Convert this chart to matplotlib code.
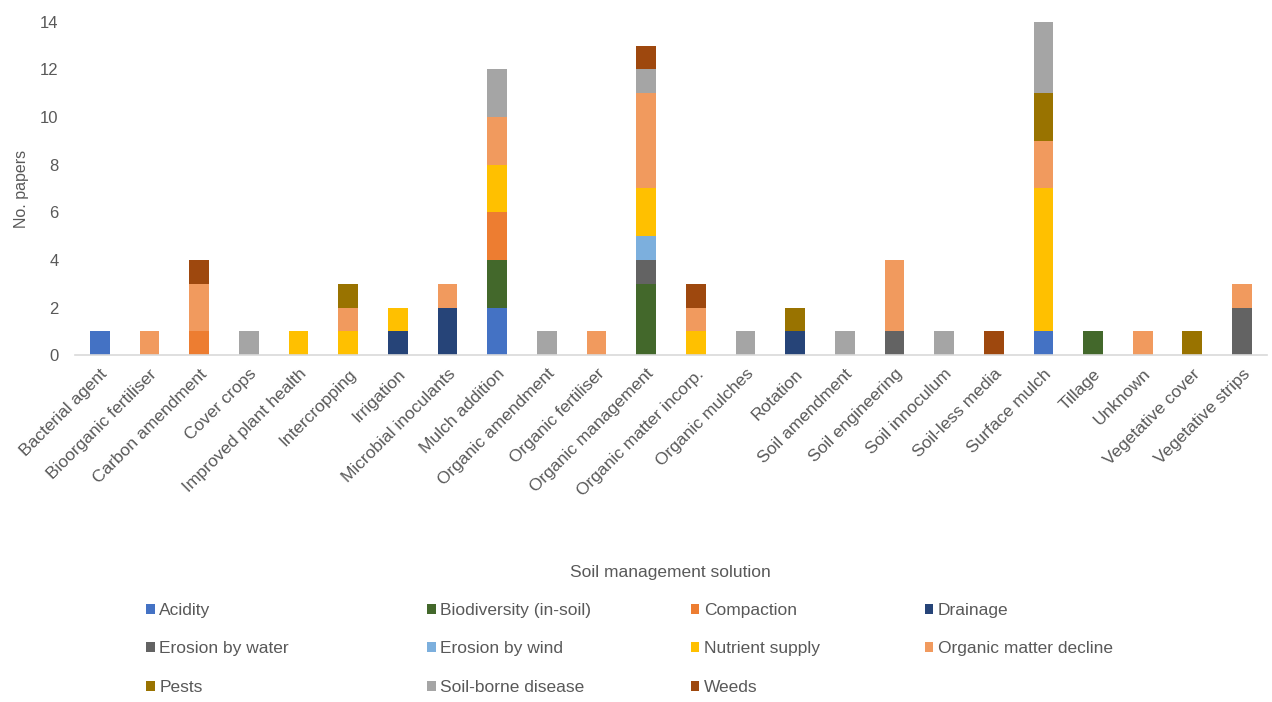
import matplotlib
matplotlib.use("Agg")
import matplotlib.pyplot as plt
import numpy as np

categories = ["Bacterial agent", "Bioorganic fertiliser", "Carbon amendment", "Cover crops",
              "Improved plant health", "Intercropping", "Irrigation", "Microbial inoculants",
              "Mulch addition", "Organic amendment", "Organic fertiliser", "Organic management",
              "Organic matter incorp.", "Organic mulches", "Rotation", "Soil amendment",
              "Soil engineering", "Soil innoculum", "Soil-less media", "Surface mulch",
              "Tillage", "Unknown", "Vegetative cover", "Vegetative strips"]

acidity        = [1,0,0,0,0,0,0,0,2,0,0,0,0,0,0,0,0,0,0,1,0,0,0,0]
biodiversity   = [0,0,0,0,0,0,0,0,2,0,0,3,0,0,0,0,0,0,0,0,1,0,0,0]
compaction     = [0,0,1,0,0,0,0,0,2,0,0,0,0,0,0,0,0,0,0,0,0,0,0,0]
drainage       = [0,0,0,0,0,0,1,2,0,0,0,0,0,0,1,0,0,0,0,0,0,0,0,0]
erosion_water  = [0,0,0,0,0,0,0,0,0,0,0,1,0,0,0,0,1,0,0,0,0,0,0,2]
erosion_wind   = [0,0,0,0,0,0,0,0,0,0,0,1,0,0,0,0,0,0,0,0,0,0,0,0]
nutrient       = [0,0,0,0,1,1,1,0,2,0,0,2,1,0,0,0,0,0,0,6,0,0,0,0]
om_decline     = [0,1,2,0,0,1,0,1,2,0,1,4,1,0,0,0,3,0,0,2,0,1,0,1]
pests          = [0,0,0,0,0,1,0,0,0,0,0,0,0,0,1,0,0,0,0,2,0,0,1,0]
soil_disease   = [0,0,0,1,0,0,0,0,2,1,0,1,0,1,0,1,0,1,0,3,0,0,0,0]
weeds          = [0,0,1,0,0,0,0,0,0,0,0,1,1,0,0,0,0,0,1,0,0,0,0,0]

series_names = ["Acidity", "Biodiversity (in-soil)", "Compaction", "Drainage",
                "Erosion by water", "Erosion by wind", "Nutrient supply",
                "Organic matter decline", "Pests", "Soil-borne disease", "Weeds"]
series_values = [acidity, biodiversity, compaction, drainage, erosion_water, erosion_wind,
                 nutrient, om_decline, pests, soil_disease, weeds]
colors = ["#4472C4", "#43682B", "#ED7D31", "#264478", "#636363", "#7CAFDD",
          "#FFC000", "#F19A5E", "#997300", "#A5A5A5", "#9E480E"]

plt.rcParams['font.family'] = ["Liberation Sans Narrow", "Liberation Sans", "DejaVu Sans"]
txt = "#595959"

fig = plt.figure(figsize=(12.72, 7.02), dpi=100)
ax = fig.add_axes([0.059, 0.494, 0.937, 0.475])

x = np.arange(len(categories))
bottom = np.zeros(len(categories))
containers = []
for name, vals, c in zip(series_names, series_values, colors):
    v = np.array(vals, dtype=float)
    bc = ax.bar(x, v, 0.4, bottom=bottom, color=c, label=name)
    containers.append(bc)
    bottom += v

ax.set_xlim(-0.5, len(categories) - 0.5)
ax.set_ylim(0, 14)
ax.set_yticks(np.arange(0, 15, 2))
for s in ["top", "right", "left"]:
    ax.spines[s].set_visible(False)
ax.spines["bottom"].set_color("#D9D9D9")
ax.spines["bottom"].set_linewidth(1.2)
ax.tick_params(axis="both", length=0, colors=txt)
ax.tick_params(axis="y", pad=12, labelsize=12)
ax.set_xticks(x)
ax.set_xticklabels(categories, rotation=45, ha="right", rotation_mode="anchor", fontsize=12.5)
ax.tick_params(axis="x", pad=8)
ax.set_ylabel("No. papers", color=txt, fontsize=11.5, labelpad=8)
fig.text(0.527, 0.184, "Soil management solution", ha="center", va="center",
         color=txt, fontsize=12.5)

col_x = [0.115, 0.336, 0.543, 0.727]
for ci in range(4):
    idx = [i for i in (ci, ci + 4, ci + 8) if i < len(series_names)]
    hs = [containers[i] for i in idx]
    ls = [series_names[i] for i in idx]
    leg = fig.legend(hs, ls, loc="upper left", bbox_to_anchor=(col_x[ci], 1 - 603 / 702),
                     bbox_transform=fig.transFigure,
                     frameon=False, fontsize=12.5, handlelength=0.5, handleheight=0.5,
                     handletextpad=0.25, labelspacing=1.35, borderpad=0, borderaxespad=0)
    for t in leg.get_texts():
        t.set_color(txt)

fig.savefig("out.png", dpi=100)
